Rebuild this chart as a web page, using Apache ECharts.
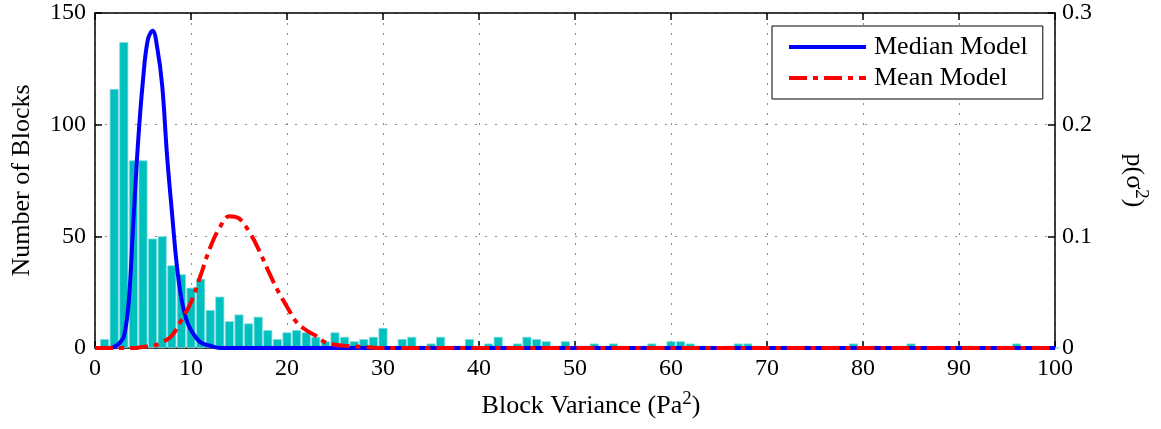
<!DOCTYPE html>
<html>
<head>
<meta charset="utf-8">
<title>Block Variance</title>
<script src="https://cdn.jsdelivr.net/npm/echarts@6/dist/echarts.min.js"></script>
<style>
  html, body { margin: 0; padding: 0; background: #fff; }
  #chart { width: 1161px; height: 429px; }
</style>
</head>
<body>
<div id="chart"></div>
<script>
// histogram counts, one per unit-wide bin centred on 1, 2, ... 100
const blockCounts = [
  4, 116, 137, 84, 84, 49, 50, 37, 33, 27,
  31, 17, 23, 12, 15, 11, 14, 8, 4, 7,
  8, 7, 5, 3, 7, 5, 3, 4, 5, 9,
  1, 4, 5, 1, 2, 5, 1, 1, 4, 1,
  2, 5, 1, 2, 5, 4, 3, 1, 3, 1,
  1, 2, 1, 2, 1, 0, 1, 2, 1, 3,
  3, 2, 1, 1, 0, 1, 2, 2, 1, 0,
  0, 1, 0, 1, 0, 0, 1, 0, 2, 0,
  1, 0, 0, 1, 2, 0, 0, 1, 0, 1,
  1, 0, 0, 0, 1, 2, 0, 1, 0, 0
]

// median model p(sigma^2)
const medianX = [0, 1.5, 2, 2.5, 3, 3.5, 4, 4.5, 5, 5.5, 6, 6.5, 7, 7.5, 8, 8.5, 9, 9.5, 10, 11, 12, 13, 100]
const medianP = [0, 0, 0.001, 0.004, 0.010, 0.040, 0.114, 0.186, 0.240, 0.276, 0.284, 0.268, 0.235, 0.173, 0.123, 0.076, 0.044, 0.026, 0.016, 0.005, 0.002, 0, 0]

// mean model p(sigma^2)
const meanX = [0, 4, 5, 6, 7, 8, 9, 10, 11, 12, 13, 14, 15, 16, 17, 18, 19, 20, 21, 22, 23, 24, 25, 26, 28, 30, 100]
const meanP = [0, 0, 0.001, 0.002, 0.005, 0.011, 0.025, 0.041, 0.065, 0.090, 0.108, 0.118, 0.116, 0.105, 0.089, 0.070, 0.052, 0.037, 0.023, 0.016, 0.011, 0.005, 0.003, 0.002, 0.001, 0, 0]

const FONT = 'Liberation Serif'

const chart = echarts.init(document.getElementById('chart'))

const barData = blockCounts.map((c, i) => [i + 1, c])
const medianData = medianX.map((x, i) => [x, medianP[i]])
const meanData = meanX.map((x, i) => [x, meanP[i]])

const dotted = { color: '#8c8c8c', width: 1, type: [2, 8] }
const boxLine = { show: true, onZero: false, lineStyle: { color: '#000', width: 1.5 } }
const inTick = { show: true, inside: true, length: 7, lineStyle: { color: '#000', width: 1.5 } }

const option = {
  animation: false,
  backgroundColor: '#fff',
  textStyle: { fontFamily: FONT, color: '#000' },
  grid: { left: 95, right: 106, top: 13, bottom: 81, containLabel: false },
  legend: {
    orient: 'vertical',
    left: 772,
    top: 26,
    padding: [8, 15, 8, 15],
    itemGap: 5,
    itemWidth: 77,
    itemHeight: 14,
    backgroundColor: '#fff',
    borderColor: '#000',
    borderWidth: 1,
    borderRadius: 0,
    itemStyle: { opacity: 0 },
    lineStyle: { width: 4 },
    textStyle: { fontFamily: FONT, fontSize: 26, color: '#000', lineHeight: 26, padding: [0, 0, 0, 3] },
    data: ['Median Model', 'Mean Model']
  },
  xAxis: [
    {
      type: 'value',
      min: 0,
      max: 100,
      interval: 10,
      name: 'Block Variance (Pa{s|2})',
      nameLocation: 'middle',
      nameGap: 42,
      nameTextStyle: {
        fontFamily: FONT,
        fontSize: 26,
        color: '#000',
        padding: [0, 0, 0, 32],
        rich: { s: { fontFamily: FONT, fontSize: 19, padding: [0, 0, 14, 0] } }
      },
      axisLine: boxLine,
      axisTick: inTick,
      axisLabel: { fontFamily: FONT, fontSize: 24, color: '#000', margin: 9 },
      splitLine: { show: true, lineStyle: dotted }
    },
    {
      type: 'value',
      position: 'top',
      min: 0,
      max: 100,
      interval: 10,
      axisLine: boxLine,
      axisTick: inTick,
      axisLabel: { show: false },
      splitLine: { show: false }
    }
  ],
  yAxis: [
    {
      type: 'value',
      min: 0,
      max: 150,
      interval: 50,
      name: 'Number of Blocks',
      nameLocation: 'middle',
      nameGap: 60,
      nameTextStyle: { fontFamily: FONT, fontSize: 26, color: '#000' },
      axisLine: boxLine,
      axisTick: inTick,
      axisLabel: { fontFamily: FONT, fontSize: 24, color: '#000', margin: 9 },
      splitLine: { show: true, lineStyle: dotted }
    },
    {
      type: 'value',
      position: 'right',
      min: 0,
      max: 0.3,
      interval: 0.1,
      name: 'p(σ{s|2})',
      nameLocation: 'middle',
      nameGap: 62,
      nameRotate: -90,
      nameTextStyle: {
        fontFamily: FONT,
        fontSize: 26,
        color: '#000',
        rich: { s: { fontFamily: FONT, fontSize: 19, padding: [0, 0, 14, 0] } }
      },
      axisLine: boxLine,
      axisTick: inTick,
      axisLabel: { fontFamily: FONT, fontSize: 24, color: '#000', margin: 7 },
      splitLine: { show: false }
    }
  ],
  series: [
    {
      name: 'Blocks',
      type: 'bar',
      xAxisIndex: 0,
      yAxisIndex: 0,
      barWidth: 9,
      itemStyle: { color: '#00bfbf', borderColor: '#7fdcdc', borderWidth: 0.8 },
      data: barData
    },
    {
      name: 'Median Model',
      type: 'line',
      xAxisIndex: 0,
      yAxisIndex: 1,
      smooth: 0.4,
      symbol: 'none',
      lineStyle: { color: '#0000ff', width: 4 },
      itemStyle: { color: '#0000ff' },
      data: medianData
    },
    {
      name: 'Mean Model',
      type: 'line',
      xAxisIndex: 0,
      yAxisIndex: 1,
      smooth: 0.4,
      symbol: 'none',
      lineStyle: { color: '#ff0000', width: 4, type: [18, 6, 5, 6] },
      itemStyle: { color: '#ff0000' },
      data: meanData
    }
  ]
}

chart.setOption(option)
</script>
</body>
</html>
